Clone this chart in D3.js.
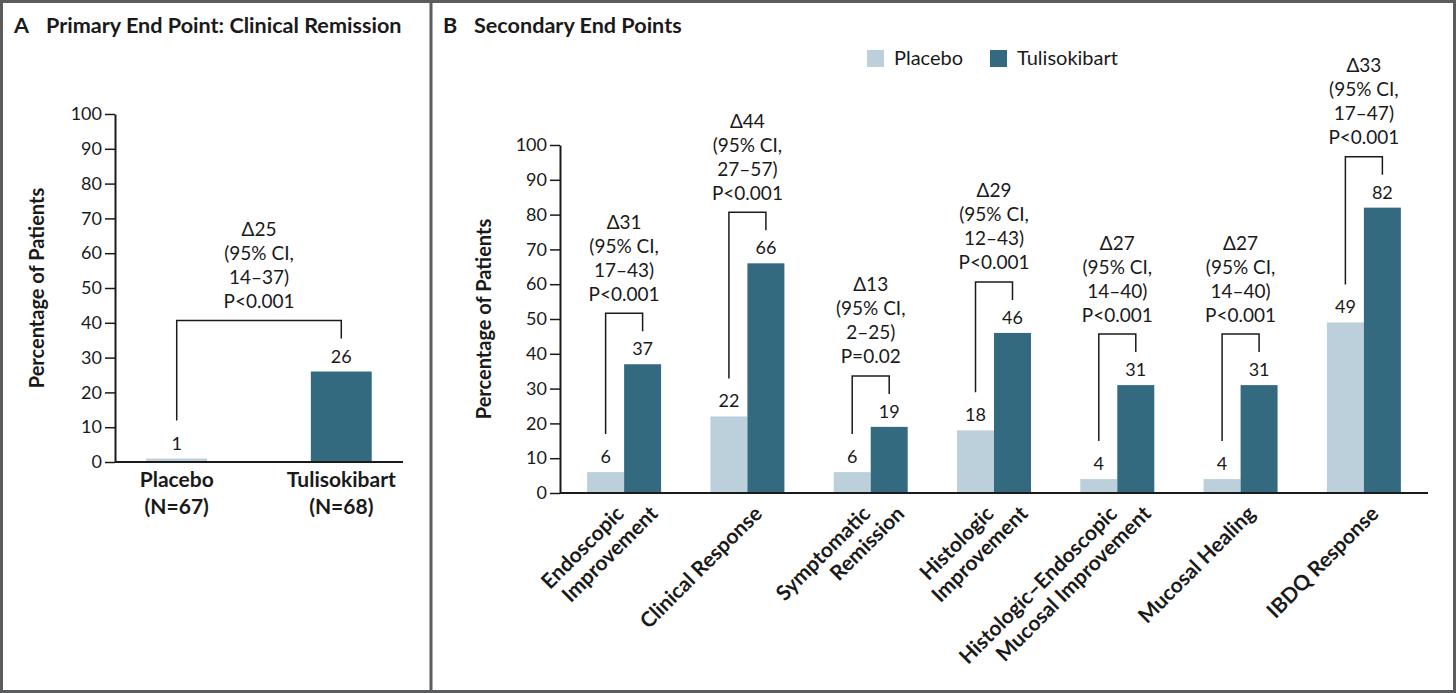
<!DOCTYPE html>
<html>
<head>
<meta charset="utf-8">
<script src="https://cdn.jsdelivr.net/npm/d3@7"></script>
<style>
	body { margin: 0; background: #fff; }
	svg { display: block; font-family: Lato, "Open Sans", sans-serif; }
	.axis text { font-size: 18px; fill: #1a1a1a; font-family: Lato, sans-serif; }
	.axis path, .axis line { stroke: #1a1a1a; }
	.axis path { stroke-width: 2; }
	.axis line { stroke-width: 1.5; }
	.panel-title { font-size: 21.6px; font-weight: bold; fill: #1a1a1a; }
	.axis-title { font-size: 20px; font-weight: bold; fill: #1a1a1a; }
	.cat-label { font-size: 21px; font-weight: bold; fill: #1a1a1a; }
	.value-label { font-size: 18px; fill: #1a1a1a; }
	.note { font-size: 19px; fill: #1a1a1a; }
	.legend-item { font-size: 20px; fill: #1a1a1a; }
</style>
</head>
<body>
<svg id="chart"></svg>
<script>
// panel A: primary end point
const primaryGroups = ["Placebo", "Tulisokibart"];
const primaryN = ["(N=67)", "(N=68)"];
const primaryValues = [1, 26];
const primaryNote = ["\u039425", "(95% CI,", "14\u201337)", "P<0.001"];

// panel B: secondary end points
const endPoints = [
	["Endoscopic", "Improvement"],
	["Clinical Response"],
	["Symptomatic", "Remission"],
	["Histologic", "Improvement"],
	["Histologic\u2013Endoscopic", "Mucosal Improvement"],
	["Mucosal Healing"],
	["IBDQ Response"]
];
const placeboValues = [6, 22, 6, 18, 4, 4, 49];
const tulisokibartValues = [37, 66, 19, 46, 31, 31, 82];
const diffNotes = [
	["\u039431", "(95% CI,", "17\u201343)", "P<0.001"],
	["\u039444", "(95% CI,", "27\u201357)", "P<0.001"],
	["\u039413", "(95% CI,", "2\u201325)", "P=0.02"],
	["\u039429", "(95% CI,", "12\u201343)", "P<0.001"],
	["\u039427", "(95% CI,", "14\u201340)", "P<0.001"],
	["\u039427", "(95% CI,", "14\u201340)", "P<0.001"],
	["\u039433", "(95% CI,", "17\u201347)", "P<0.001"]
];

const seriesNames = ["Placebo", "Tulisokibart"];
const yTicks = [0, 10, 20, 30, 40, 50, 60, 70, 80, 90, 100];

const colors = { Placebo: "#bcd0db", Tulisokibart: "#346a80" };
const ink = "#1a1a1a";
const frameColor = "#5b5c5e";

const viewWidth = 1456;
const viewHeight = 693;

const svg = d3.select("#chart")
	.attr("width", viewWidth)
	.attr("height", viewHeight);

// frame and divider
svg.append("rect")
	.attr("x", 1.5).attr("y", 1.5)
	.attr("width", viewWidth - 3).attr("height", viewHeight - 3)
	.attr("fill", "none")
	.attr("stroke", frameColor)
	.attr("stroke-width", 3);

svg.append("line")
	.attr("x1", 431).attr("x2", 431)
	.attr("y1", 0).attr("y2", viewHeight)
	.attr("stroke", frameColor)
	.attr("stroke-width", 3);

function yAxis(g, y) {
	g.attr("class", "axis")
		.call(d3.axisLeft(y).tickValues(yTicks).tickSize(10).tickPadding(3).tickSizeOuter(0))
		.attr("font-family", null)
		.attr("font-size", null);
}

// bracket from placebo bar to tulisokibart bar, with the difference text above it
function drawDiff(g, xLeft, xRight, yPlacebo, yTuli, lines) {
	const top = yTuli - 51;
	g.append("path")
		.attr("d", "M" + xLeft + "," + (yPlacebo - 38) + "V" + top + "H" + xRight + "V" + (yTuli - 33))
		.attr("fill", "none")
		.attr("stroke", ink)
		.attr("stroke-width", 1.5);

	const t = g.append("text")
		.attr("class", "note")
		.attr("text-anchor", "middle");
	lines.forEach(function (s, i) {
		t.append("tspan")
			.attr("x", (xLeft + xRight) / 2)
			.attr("y", top - 12.5 - (lines.length - 1 - i) * 24)
			.text(s);
	});
}

function valueLabel(g, x, y, v) {
	g.append("text")
		.attr("class", "value-label")
		.attr("x", x)
		.attr("y", y - 9)
		.attr("text-anchor", "middle")
		.text(v);
}

function drawPrimary() {
	const g = svg.append("g");

	g.append("text").attr("class", "panel-title").attr("x", 14).attr("y", 33).text("A");
	g.append("text").attr("class", "panel-title").attr("x", 46).attr("y", 33).text("Primary End Point: Clinical Remission");

	const x = d3.scaleBand()
		.domain(primaryGroups)
		.range([115, 403])
		.paddingInner(0.63)
		.paddingOuter(0.19);
	const y = d3.scaleLinear()
		.domain([0, 100])
		.range([462, 114]);

	g.selectAll("rect.bar")
		.data(primaryGroups)
		.join("rect")
		.attr("class", "bar")
		.attr("x", d => x(d))
		.attr("width", x.bandwidth())
		.attr("y", (d, i) => y(primaryValues[i]))
		.attr("height", (d, i) => y(0) - y(primaryValues[i]))
		.attr("fill", d => colors[d]);

	g.append("g")
		.attr("transform", "translate(115,0)")
		.call(yAxis, y);

	g.append("line")
		.attr("x1", 115).attr("x2", 403)
		.attr("y1", y(0)).attr("y2", y(0))
		.attr("stroke", ink)
		.attr("stroke-width", 2);

	primaryGroups.forEach(function (d, i) {
		const cx = x(d) + x.bandwidth() / 2;
		valueLabel(g, cx, y(primaryValues[i]), primaryValues[i]);
		g.append("text")
			.attr("class", "cat-label")
			.attr("text-anchor", "middle")
			.attr("x", cx).attr("y", 487)
			.text(d);
		g.append("text")
			.attr("class", "cat-label")
			.attr("text-anchor", "middle")
			.attr("x", cx).attr("y", 514)
			.text(primaryN[i]);
	});

	const xl = x(primaryGroups[0]) + x.bandwidth() / 2;
	const xr = x(primaryGroups[1]) + x.bandwidth() / 2;
	drawDiff(g, xl, xr, y(primaryValues[0]), y(primaryValues[1]), primaryNote);

	g.append("text")
		.attr("class", "axis-title")
		.attr("transform", "translate(44," + ((y(0) + y(100)) / 2) + ") rotate(-90)")
		.attr("text-anchor", "middle")
		.text("Percentage of Patients");
}

function drawSecondary() {
	const g = svg.append("g");

	g.append("text").attr("class", "panel-title").attr("x", 443).attr("y", 33).text("B");
	g.append("text").attr("class", "panel-title").attr("x", 474).attr("y", 33).text("Secondary End Points");

	const x = d3.scaleBand()
		.domain(d3.range(endPoints.length))
		.range([560, 1428])
		.paddingInner(0.4)
		.paddingOuter(0.22);
	const xs = d3.scaleBand()
		.domain(seriesNames)
		.range([0, x.bandwidth()]);
	const y = d3.scaleLinear()
		.domain([0, 100])
		.range([493, 145]);

	const series = [placeboValues, tulisokibartValues];

	const groups = g.selectAll("g.group")
		.data(endPoints)
		.join("g")
		.attr("class", "group")
		.attr("transform", (d, i) => "translate(" + x(i) + ",0)");

	seriesNames.forEach(function (name, s) {
		groups.append("rect")
			.attr("x", xs(name))
			.attr("width", xs.bandwidth())
			.attr("y", (d, i) => y(series[s][i]))
			.attr("height", (d, i) => y(0) - y(series[s][i]))
			.attr("fill", colors[name]);
	});

	g.append("g")
		.attr("transform", "translate(560,0)")
		.call(yAxis, y);

	g.append("line")
		.attr("x1", 560).attr("x2", 1428)
		.attr("y1", y(0)).attr("y2", y(0))
		.attr("stroke", ink)
		.attr("stroke-width", 2);

	endPoints.forEach(function (lines, i) {
		const xl = x(i) + xs("Placebo") + xs.bandwidth() / 2;
		const xr = x(i) + xs("Tulisokibart") + xs.bandwidth() / 2;
		const cx = x(i) + x.bandwidth() / 2;

		valueLabel(g, xl, y(placeboValues[i]), placeboValues[i]);
		valueLabel(g, xr, y(tulisokibartValues[i]), tulisokibartValues[i]);
		drawDiff(g, xl, xr, y(placeboValues[i]), y(tulisokibartValues[i]), diffNotes[i]);

		// rotated category names, each line end-anchored just under the axis
		lines.forEach(function (s, j) {
			const ax = lines.length === 1 ? cx + 16 : cx + 1 + j * 34;
			g.append("text")
				.attr("class", "cat-label")
				.attr("text-anchor", "end")
				.attr("transform", "translate(" + ax + "," + (y(0) + 22) + ") rotate(-45)")
				.text(s);
		});
	});

	g.append("text")
		.attr("class", "axis-title")
		.attr("transform", "translate(491," + ((y(0) + y(100)) / 2) + ") rotate(-90)")
		.attr("text-anchor", "middle")
		.text("Percentage of Patients");

	// legend
	const legend = g.append("g");
	const legendX = [867, 990];
	seriesNames.forEach(function (name, i) {
		legend.append("rect")
			.attr("x", legendX[i]).attr("y", 50)
			.attr("width", 17).attr("height", 17)
			.attr("fill", colors[name]);
		legend.append("text")
			.attr("class", "legend-item")
			.attr("x", legendX[i] + 27).attr("y", 65)
			.text(name);
	});
}

drawPrimary();
drawSecondary();
</script>
</body>
</html>
